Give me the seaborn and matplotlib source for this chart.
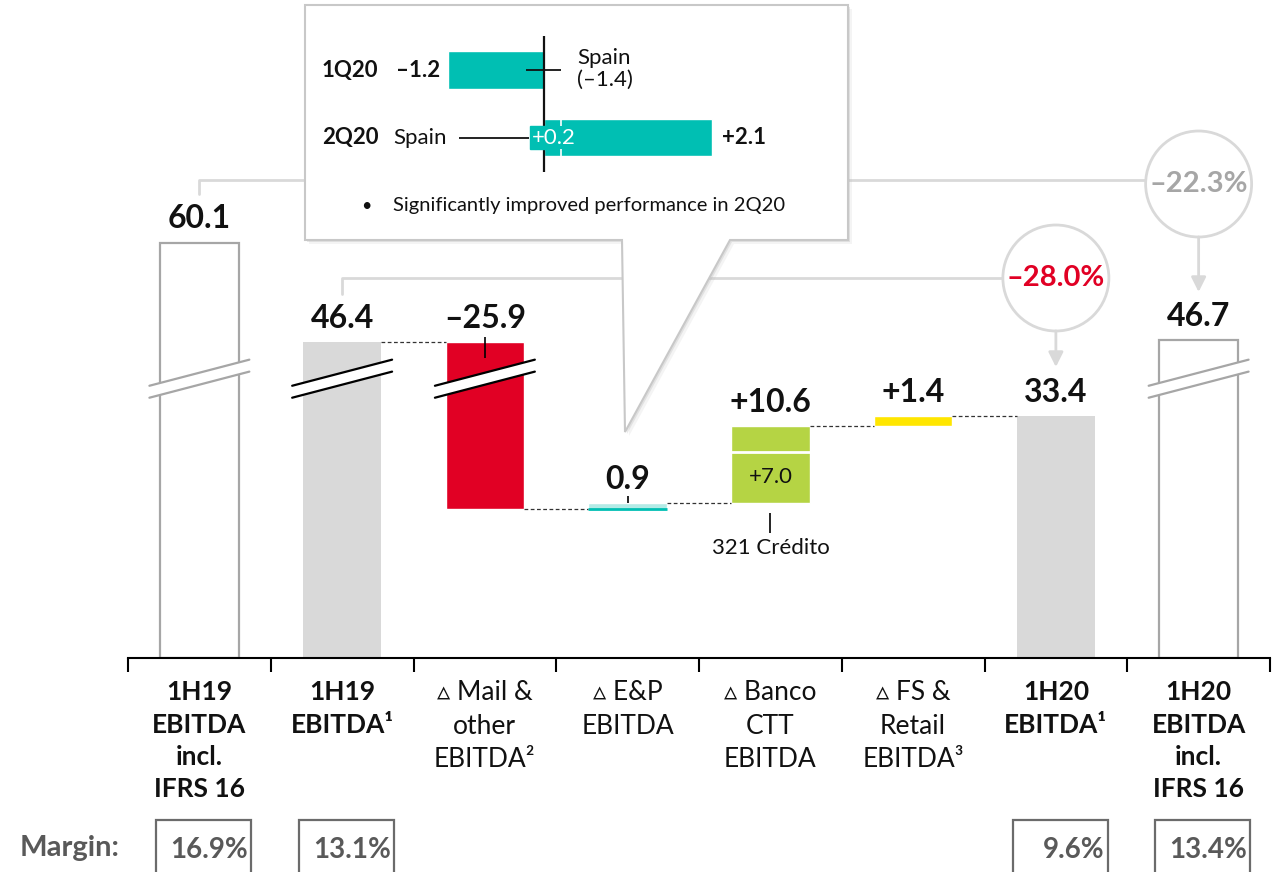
import numpy as np
import matplotlib.pyplot as plt
import matplotlib.transforms as mtransforms
from matplotlib.patches import Polygon, Ellipse, Rectangle, FancyArrowPatch
from matplotlib.lines import Line2D
import seaborn as sns

sns.set_theme(style="white")
plt.rcParams['font.family'] = ['Lato', 'DejaVu Sans']

# ---- data ----
CATEGORIES = ["1H19\nEBITDA\nincl.\nIFRS 16", "1H19\nEBITDA¹", "▵ Mail &\nother\nEBITDA²",
              "▵ E&P\nEBITDA", "▵ Banco\nCTT\nEBITDA", "▵ FS &\nRetail\nEBITDA³",
              "1H20\nEBITDA¹", "1H20\nEBITDA\nincl.\nIFRS 16"]
BOLD_CATS = [True, True, False, False, False, False, True, True]

TOTAL_IDX = [0, 1, 6, 7]
TOTAL_VALUES = [60.1, 46.4, 33.4, 46.7]
TOTAL_LABELS = ["60.1", "46.4", "33.4", "46.7"]

DELTA_IDX = [2, 3, 4, 5]
DELTA_VALUES = [-25.9, 0.9, 10.6, 1.4]
DELTA_LABELS = ["–25.9", "0.9", "+10.6", "+1.4"]
BANCO_321 = 7.0

MARGIN_IDX = [0, 1, 6, 7]
MARGIN_LABELS = ["16.9%", "13.1%", "9.6%", "13.4%"]

CHANGE_IDX = [6, 7]
CHANGE_LABELS = ["–28.0%", "–22.3%"]

Q_LABELS = ["1Q20", "2Q20"]
Q_VALUES = [-1.2, 2.1]
Q_VALUE_LABELS = ["–1.2", "+2.1"]
SPAIN_VALUES = [-1.4, 0.2]

# ---- styling ----
W, H = 1280, 872
BASE_PX, PX_PER_UNIT = 658, 7.25
BREAK_AT, BREAK_CUT = 37.7, 2.8
BAR_W = 0.55
RED, GREEN, YELLOW, TEAL = '#e10024', '#b5d444', '#ffe600', '#00bfb3'
GREY_FILL, GREY_EDGE, GREY_LINE = '#d9d9d9', '#a6a6a6', '#d9d9d9'
DELTA_COLORS = [RED, '#b3ebe6', GREEN, YELLOW]
BREAK_IDX = [0, 1, 2, 7]
BREAK_COLORS = [GREY_EDGE, 'black', 'black', GREY_EDGE]


def shown(v):
    # values above the axis break are drawn shortened
    v = np.asarray(v, dtype=float)
    return np.where(v > BREAK_AT, v - BREAK_CUT, v)


def fx(px):
    return px / W


def fy(py):
    return 1 - py / H


fig = plt.figure(figsize=(W / 100, H / 100), dpi=100)
ax = fig.add_axes([fx(128), fy(BASE_PX), 1142 / W, BASE_PX / H])
bx = mtransforms.blended_transform_factory(ax.transData, fig.transFigure)

# --- total bars (seaborn) ---
total_cats = [CATEGORIES[i] for i in TOTAL_IDX]
total_fill = dict(zip(total_cats, ['white', GREY_FILL, GREY_FILL, 'white']))
sns.barplot(x=total_cats, y=shown(TOTAL_VALUES), order=CATEGORIES, hue=total_cats,
            palette=total_fill, saturation=1, width=BAR_W, legend=False,
            errorbar=None, ax=ax)
for p in ax.patches:
    i = int(round(p.get_x() + p.get_width() / 2))
    if i in (0, 7):
        p.set_edgecolor(GREY_EDGE)
        p.set_linewidth(1.6)
    else:
        p.set_edgecolor('none')

# --- floating delta bars ---
start = TOTAL_VALUES[1]
ends = start + np.cumsum(DELTA_VALUES)
begins = np.r_[start, ends[:-1]]
lows, highs = np.minimum(begins, ends), np.maximum(begins, ends)
ax.bar(DELTA_IDX, shown(highs) - shown(lows), bottom=shown(lows), width=BAR_W,
       color=DELTA_COLORS, zorder=2)
ax.hlines(lows[1], DELTA_IDX[1] - BAR_W / 2, DELTA_IDX[1] + BAR_W / 2, color=TEAL, lw=2, zorder=3)
ax.hlines(lows[2] + BANCO_321, DELTA_IDX[2] - BAR_W / 2, DELTA_IDX[2] + BAR_W / 2,
          color='white', lw=2, zorder=3)

# dashed connectors
levels = shown(np.r_[start, ends])
xs = np.arange(1, 6)
ax.hlines(levels, xs + BAR_W / 2, xs + 1 - BAR_W / 2, colors='#333333',
          linestyles=(0, (3, 2)), lw=0.9)

# axis break marks
for i, c in zip(BREAK_IDX, BREAK_COLORS):
    x0, x1 = i - 0.35, i + 0.35
    y0, y1, gap = 35.9, 39.5, 1.65
    ax.add_patch(Polygon([(x0, y0), (x1, y1), (x1, y1 + gap), (x0, y0 + gap)],
                         facecolor='white', edgecolor='none', zorder=4, clip_on=False))
    ax.plot([x0, x1], [y0, y1], color=c, lw=1.6, zorder=5, clip_on=False)
    ax.plot([x0, x1], [y0 + gap, y1 + gap], color=c, lw=1.6, zorder=5, clip_on=False)

# value labels
for i, v, lab in zip(TOTAL_IDX + DELTA_IDX, list(TOTAL_VALUES) + list(highs),
                     TOTAL_LABELS + DELTA_LABELS):
    ax.annotate(lab, (i, float(shown(v))), xytext=(0, 17), textcoords='offset points',
                ha='center', va='center', fontsize=23, fontweight='bold', color='#111111')
ax.vlines(DELTA_IDX[0], shown(highs[0]) - 2.2, shown(highs[0]) + 0.7, color='black', lw=1.2, zorder=3)
ax.vlines(DELTA_IDX[1], highs[1], highs[1] + 0.9, color='black', lw=1.2, zorder=3)

ax.text(DELTA_IDX[2], lows[2] + BANCO_321 / 2, f"+{BANCO_321:.1f}", ha='center', va='center',
        fontsize=16, color='#111111', zorder=4)
ax.vlines(DELTA_IDX[2], lows[2] - 4.2, lows[2] - 1.4, color='black', lw=1.2)
ax.text(DELTA_IDX[2], lows[2] - 6.2, "321 Crédito", ha='center', va='center',
        fontsize=16, color='#111111')

# axes cosmetics
ax.set_xlim(-0.5, 7.5)
ax.set_ylim(0, BASE_PX / PX_PER_UNIT)
ax.set_yticks([])
ax.set_xlabel('')
ax.set_ylabel('')
for s in ['left', 'top', 'right']:
    ax.spines[s].set_visible(False)
ax.spines['bottom'].set_color('black')
ax.spines['bottom'].set_linewidth(1.5)
ax.set_xticks(np.arange(-0.5, 8, 1), minor=True)
ax.tick_params(axis='x', which='minor', bottom=True, length=10, width=1.5,
               color='black', direction='out')
ax.tick_params(axis='x', which='major', bottom=False, length=0, pad=16,
               labelsize=19, labelcolor='#111111')
for lab, bold in zip(ax.get_xticklabels(), BOLD_CATS):
    lab.set_fontweight('bold' if bold else 'normal')
    lab.set_linespacing(1.42)

# --- brackets, change circles, arrows ---
R_PX = 53
r_dx = R_PX / 142.75
for src, dst, y_top, y_line, cy, tip, lab, col in [
        (1, CHANGE_IDX[0], 294, 278, 278, 367, CHANGE_LABELS[0], RED),
        (0, CHANGE_IDX[1], 194, 180, 184, 292, CHANGE_LABELS[1], GREY_EDGE)]:
    fig.add_artist(Line2D([src, src, dst - r_dx], [fy(y_top), fy(y_line), fy(y_line)],
                          transform=bx, color=GREY_LINE, lw=2, zorder=1))
    fig.add_artist(Ellipse((dst, fy(cy)), 2 * r_dx, 2 * R_PX / H, transform=bx,
                           facecolor='white', edgecolor=GREY_LINE, lw=2, zorder=2))
    fig.text(dst, fy(cy), lab, transform=bx, fontsize=21, fontweight='bold', color=col,
             ha='center', va='center', zorder=3)
    fig.add_artist(FancyArrowPatch((dst, fy(cy + R_PX)), (dst, fy(tip)), transform=bx,
                                   arrowstyle='-|>', mutation_scale=22, color=GREY_LINE,
                                   lw=2, zorder=2, shrinkA=0, shrinkB=0))

# --- callout box ---
box = [(305, 5), (848, 5), (848, 240), (730, 240), (625, 432), (622, 240), (305, 240)]
for off, a in [(4, 0.15), (2, 0.3)]:
    fig.add_artist(Polygon([(fx(x + off), fy(y + off)) for x, y in box], transform=fig.transFigure,
                           facecolor='#b8b8b8', edgecolor='none', alpha=a, zorder=3))
fig.add_artist(Polygon([(fx(x), fy(y)) for x, y in box], transform=fig.transFigure,
                       facecolor='white', edgecolor='#c8c8c8', lw=1.5, zorder=3.5))
fig.text(fx(366), fy(206), "•", fontsize=13, ha='center', va='center', color='#111111', zorder=4)
fig.text(fx(393), fy(206), "Significantly improved performance in 2Q20", fontsize=14.5,
         ha='left', va='center', color='#111111', zorder=4)

# inset quarterly bars
iax = fig.add_axes([fx(384), fy(172), 400 / W, 136 / H])
iax.set_zorder(5)
iax.patch.set_alpha(0)
sns.barplot(x=Q_VALUES, y=Q_LABELS, orient='h', color=TEAL, saturation=1, width=0.55,
            errorbar=None, ax=iax)
iax.set_xlim(-2, 3)
iax.set_ylim(1.511, -0.504)
iax.axis('off')


def ix(px):
    return (px - 544) / 80


iax.axvline(0, color='#111111', lw=1.6, zorder=2)
# Spain share of 2Q20: short white separators at the bar edges
iax.vlines([SPAIN_VALUES[1] + 0.01] * 2, [1 - 0.275, 1 + 0.17], [1 - 0.17, 1 + 0.275],
           color='white', lw=1.2, zorder=3)
# small teal patch behind "+0.2"
iax.add_patch(Rectangle((ix(530), 1 - 0.17), ix(546) - ix(530), 0.34, color=TEAL, zorder=4))
for k, q in enumerate(Q_LABELS):
    iax.text(ix(322), k, q, fontsize=16, fontweight='bold', ha='left', va='center',
             color='#111111', clip_on=False)
iax.text(Q_VALUES[0] - 0.1, 0, Q_VALUE_LABELS[0], fontsize=16, fontweight='bold',
         ha='right', va='center', color='#111111', clip_on=False)
iax.text(Q_VALUES[1] + 0.125, 1, Q_VALUE_LABELS[1], fontsize=16, fontweight='bold',
         ha='left', va='center', color='#111111', clip_on=False)
iax.hlines(0, ix(526), ix(561), color='#111111', lw=1.3, zorder=5)
iax.text(ix(577), -0.02, f"Spain\n(–{abs(SPAIN_VALUES[0]):.1f})", fontsize=16, ha='left',
         va='center', linespacing=1.12, color='#111111', clip_on=False)
iax.hlines(1, ix(459), ix(529), color='#111111', lw=1.3, zorder=5)
iax.text(ix(393), 1, "Spain", fontsize=16, ha='left', va='center', color='#111111', clip_on=False)
iax.text(ix(532), 1, f"+{SPAIN_VALUES[1]:.1f}", fontsize=16, ha='left', va='center',
         color='white', zorder=6, clip_on=False)

# --- margin row ---
fig.text(fx(20), fy(848), "Margin:", fontsize=21, fontweight='bold', color='#595959',
         ha='left', va='center')
for i, lab in zip(MARGIN_IDX, MARGIN_LABELS):
    c = i + 0.03
    fig.add_artist(Rectangle((c - 0.333, fy(890)), 0.666, 70 / H, transform=bx,
                             fill=False, edgecolor='#6b6b6b', lw=1.6))
    fig.text(c + 0.31, fy(850), lab, transform=bx, fontsize=20, fontweight='bold',
             color='#595959', ha='right', va='center')

fig.savefig("out.png", dpi=100)
